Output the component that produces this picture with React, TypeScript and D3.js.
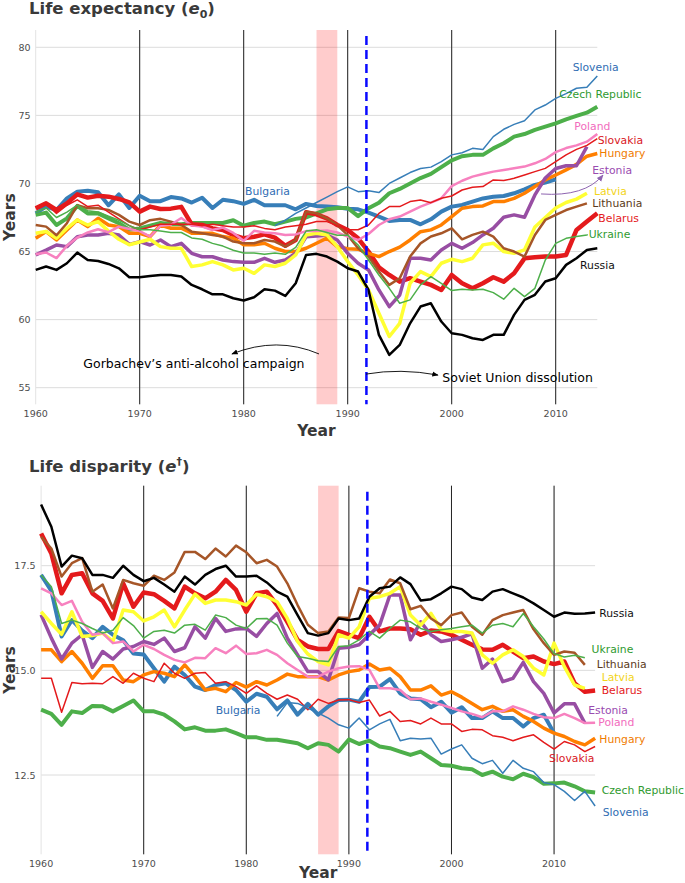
import React from 'react';
import * as d3 from 'd3';

const N = null;

const years = [
  1960, 1961, 1962, 1963, 1964, 1965, 1966, 1967, 1968, 1969,
  1970, 1971, 1972, 1973, 1974, 1975, 1976, 1977, 1978, 1979,
  1980, 1981, 1982, 1983, 1984, 1985, 1986, 1987, 1988, 1989,
  1990, 1991, 1992, 1993, 1994, 1995, 1996, 1997, 1998, 1999,
  2000, 2001, 2002, 2003, 2004, 2005, 2006, 2007, 2008, 2009,
  2010, 2011, 2012, 2013, 2014,
];

// ---------- Life expectancy (e0) ----------
const e0Russia = [
  63.65, 63.9, 63.65, 64.14, 64.92, 64.38, 64.31, 64.09, 63.77, 63.11,
  63.11, 63.21, 63.28, 63.28, 63.16, 62.55, 62.23, 61.86, 61.86, 61.57,
  61.4, 61.64, 62.23, 62.13, 61.74, 62.67, 64.75, 64.83, 64.63, 64.26,
  63.77, 63.53, 62.18, 58.88, 57.41, 58.14, 59.73, 60.96, 61.2, 59.86,
  59.0, 58.88, 58.63, 58.51, 58.88, 58.88, 60.35, 61.45, 61.82, 62.8,
  63.04, 64.02, 64.51, 65.12, 65.24,
];
const e0Bulgaria = [
  67.8, 68.3, 68.05, 68.9, 69.4, 69.47, 69.35, 68.4, 69.2, 68.2,
  69.1, 68.7, 68.7, 69.0, 68.9, 68.6, 68.95, 68.2, 68.8, 68.7,
  68.5, 68.8, 68.4, 68.4, 68.4, 68.1, 68.5, 68.35, 68.3, 68.25,
  68.15, 68.1, 67.86, 67.56, 67.25, 67.32, 67.32, 67.0, 67.37, 67.93,
  68.3, 68.42, 68.67, 68.9, 69.03, 69.08, 69.28, 69.57, 69.89, 70.06,
  70.3, N, N, N, N,
];
const e0Czech = [
  67.69, 67.86, 66.95, 67.44, 68.35, 67.8, 67.8, 67.44, 67.08, 66.6,
  66.7, 66.9, 67.1, 67.0, 67.0, 67.1, 67.1, 67.1, 67.1, 67.3,
  66.9, 67.1, 67.2, 67.0, 67.2, 67.4, 67.5, 67.8, 68.1, 68.2,
  68.2, 67.6, 68.18, 68.59, 69.28, 69.6, 70.0, 70.4, 70.7, 71.2,
  71.7, 72.0, 72.1, 72.1, 72.58, 72.95, 73.44, 73.63, 73.93, 74.17,
  74.42, 74.71, 74.96, 75.2, 75.64,
];
const e0Slovakia = [
  68.2, 68.5, 67.8, 68.4, 68.8, 68.3, 68.4, 67.9, 67.4, 66.9,
  66.6, 66.8, 67.0, 67.0, 67.0, 67.0, 66.9, 67.0, 66.9, 66.8,
  66.8, 66.9, 66.7, 66.6, 66.8, 66.9, 67.0, 67.2, 67.2, 66.9,
  66.6, 66.6, 66.95, 67.8, 68.3, 68.3, 68.67, 68.79, 68.59, 68.91,
  69.08, 69.52, 69.72, 69.77, 70.26, 70.21, 70.38, 70.62, 70.87, 71.11,
  71.6, 72.1, 72.5, 72.8, 73.3,
];
const e0Belarus = [
  68.17, 68.54, 68.05, 68.54, 69.2, 68.96, 69.1, 69.03, 68.86, 68.61,
  67.93, 68.3, 68.12, 68.15, 68.28, 67.0, 66.95, 66.7, 66.58, 66.21,
  65.97, 66.09, 66.26, 66.02, 65.43, 65.85, 67.88, 67.73, 67.44, 66.95,
  66.58, 65.97, 65.0, 63.84, 63.28, 62.79, 63.04, 62.79, 62.55, 62.18,
  63.28, 62.67, 62.3, 62.67, 63.11, 62.79, 63.4, 64.5, 64.58, 64.63,
  64.63, 64.75, 66.59, 67.2, 67.81,
];
const e0Ukraine = [
  67.9, 68.2, 67.5, 67.9, 68.4, 68.0, 67.9, 67.6, 67.3, 66.9,
  66.6, 66.6, 66.5, 66.4, 66.4, 66.0, 65.9, 65.6, 65.4, 65.1,
  64.9, 64.9, 64.8, 64.9, 64.8, 65.3, 66.5, 66.6, 66.4, 66.2,
  66.2, 65.48, 64.38, 63.28, 62.3, 61.2, 61.45, 62.55, 63.16, 62.67,
  62.13, 62.23, 62.18, 62.23, 61.98, 61.5, 62.3, 61.69, 62.3, 64.38,
  65.6, 65.97, 66.1, 66.22, N,
];
const e0Estonia = [
  64.75, 65.1, 65.48, 65.36, 66.09, 66.21, 66.21, 66.34, 66.21, 65.53,
  65.73, 65.48, 65.85, 65.36, 65.6, 64.87, 64.62, 64.62, 64.38, 64.26,
  64.21, 64.21, 64.5, 64.21, 64.38, 64.87, 66.09, 66.14, 66.21, 65.85,
  64.87, 64.14, 63.65, 62.18, 60.95, 61.8, 64.5, 64.5, 64.38, 65.12,
  65.6, 65.24, 65.66, 66.22, 66.71, 67.52, 67.69, 67.52, 69.16, 70.4,
  71.1, 71.3, 71.3, 72.7, N,
];
const e0Latvia = [
  66.34, 66.47, 65.98, 66.71, 67.32, 66.95, 67.2, 66.5, 65.9, 65.5,
  65.7, 65.9, 65.36, 65.24, 65.24, 63.9, 64.02, 64.26, 64.02, 63.65,
  63.77, 63.4, 64.02, 63.9, 64.14, 64.75, 66.22, 66.34, 66.22, 65.36,
  64.26, 63.28, 62.18, 60.47, 58.76, 59.73, 62.67, 63.53, 63.16, 64.14,
  64.43, 64.26, 64.51, 65.49, 65.61, 65.0, 64.87, 65.12, 66.8, 67.5,
  68.2, 68.6, 68.85, 69.28, N,
];
const e0Lithuania = [
  66.95, 66.83, 66.2, 67.08, 68.4, 68.18, 68.18, 68.06, 67.69, 67.2,
  66.95, 67.3, 67.4, 67.2, 66.95, 66.46, 66.34, 66.22, 66.1, 65.73,
  65.61, 65.61, 65.85, 65.73, 65.36, 65.85, 67.93, 67.81, 67.44, 66.95,
  66.2, 65.24, 64.63, 63.53, 62.55, 63.04, 64.63, 65.6, 66.1, 66.34,
  66.71, 65.9, 66.22, 66.46, 66.1, 65.24, 65.0, 64.63, 66.22, 67.32,
  67.69, 68.05, 68.3, 68.54, N,
];
const e0Hungary = [
  65.98, 66.47, 65.85, 66.59, 67.32, 66.83, 67.44, 66.95, 66.83, 66.34,
  66.34, 66.1, 66.95, 66.71, 66.71, 66.34, 66.34, 66.34, 66.1, 65.98,
  65.49, 65.49, 65.61, 65.24, 65.0, 65.0, 65.24, 65.61, 65.98, 65.36,
  65.2, 65.17, 64.87, 64.63, 65.0, 65.32, 65.85, 66.46, 66.59, 66.95,
  67.56, 68.18, 68.3, 68.35, 68.67, 68.67, 68.91, 69.28, 69.77, 70.26,
  70.62, 71.0, 71.4, 72.0, 72.2,
];
const e0Poland = [
  64.8, 64.93, 64.52, 65.42, 66.03, 66.4, 66.64, 66.42, 66.83, 66.66,
  66.5, 66.1, 66.9, 66.97, 67.46, 66.92, 66.83, 66.58, 66.76, 66.37,
  65.79, 66.52, 66.4, 66.34, 66.22, 66.26, 66.5, 66.5, 66.55, 66.4,
  66.1, 65.85, 66.29, 66.95, 67.37, 67.57, 67.93, 68.3, 68.59, 68.91,
  69.8, 70.2, 70.5, 70.7, 70.87, 70.99, 71.11, 71.24, 71.48, 71.8,
  72.3, 72.6, 72.8, 73.07, 73.63,
];
const e0Slovenia = [
  N, N, N, N, N, N, N, N, N, N,
  N, N, N, N, N, N, N, N, N, N,
  N, N, N, 66.9, 67.3, 67.8, 68.2, 68.6, 69.0, 69.4,
  69.75, 69.4, 69.47, 69.33, 70.0, 70.4, 70.8, 71.1, 71.2, 71.6,
  72.1, 72.26, 72.58, 72.5, 73.44, 73.98, 74.34, 74.6, 75.4, 75.76,
  76.25, 76.6, 76.99, 77.06, 77.9,
];

// ---------- Life disparity (e-dagger) ----------
const edRussia = [
  18.96, 18.43, 17.48, 17.74, 17.68, 17.28, 17.28, 17.21, 17.5, 17.28,
  17.13, 17.21, 17.05, 16.88, 17.24, 17.05, 17.28, 17.42, 17.5, 17.24,
  17.24, 17.26, 17.1, 16.88, 16.76, 16.32, 15.89, 15.83, 15.89, 16.24,
  16.2, 16.24, 16.76, 16.96, 17.0, 17.22, 17.06, 16.67, 16.7, 16.84,
  17.0, 16.94, 16.74, 16.68, 16.88, 16.94, 16.84, 16.74, 16.6, 16.44,
  16.28, 16.38, 16.35, 16.36, 16.38,
];
const edLithuania = [
  18.19, 17.91, 17.24, 17.56, 17.68, 16.88, 17.05, 16.48, 17.16, 17.08,
  17.02, 17.26, 17.16, 17.34, 17.83, 17.83, 17.66, 17.91, 17.72, 17.98,
  17.82, 17.56, 17.64, 17.48, 17.08, 16.56, 16.09, 15.89, 15.93, 16.26,
  16.25, 16.96, 16.88, 16.84, 17.17, 17.08, 16.46, 16.54, 16.24, 16.08,
  16.32, 16.38, 16.04, 15.85, 16.2, 16.32, 16.38, 16.44, 15.98, 15.65,
  15.37, 15.45, 15.42, 15.13, N,
];
const edBelarus = [
  18.27, 17.79, 16.84, 17.28, 17.32, 16.84, 16.66, 16.24, 17.08, 16.52,
  16.86, 16.82, 16.66, 16.48, 17.0, 16.84, 16.72, 16.88, 17.16, 16.92,
  16.4, 16.84, 16.88, 16.56, 16.16, 15.73, 15.57, 15.51, 15.51, 15.94,
  15.85, 15.77, 16.28, 15.93, 16.0, 16.0, 15.98, 15.85, 15.95, 15.93,
  15.85, 15.73, 15.61, 15.5, 15.49, 15.61, 15.45, 15.29, 15.33, 15.21,
  15.15, 15.21, 14.69, 14.49, 14.52,
];
const edLatvia = [
  16.4, 16.12, 15.86, 16.4, 15.81, 15.83, 15.89, 15.69, 16.44, 16.4,
  16.18, 16.28, 16.44, 16.04, 16.44, 16.82, 16.6, 16.68, 16.68, 16.64,
  16.56, 16.82, 16.76, 16.64, 16.24, 15.69, 15.39, 15.21, 15.13, 15.85,
  15.77, 16.04, 16.72, 16.76, 16.84, 17.0, 16.32, 16.08, 16.36, 15.97,
  15.93, 15.93, 15.89, 15.37, 15.17, 15.37, 15.49, 15.33, 15.05, 14.89,
  15.65, 15.09, 14.65, 14.57, N,
];
const edUkraine = [
  17.28, 17.0, 16.12, 16.2, 16.12, 16.0, 15.89, 15.96, 16.26, 16.07,
  15.77, 15.93, 15.96, 15.89, 16.08, 16.1, 15.96, 16.32, 16.26, 16.08,
  16.0, 16.23, 16.24, 16.08, 15.65, 15.33, 15.29, 15.23, 15.21, 15.57,
  15.59, 15.73, 15.93, 15.77, 16.0, 16.2, 16.16, 16.0, 15.93, 15.97,
  16.0, 16.04, 16.08, 15.89, 16.08, 16.12, 16.04, 16.36, 16.04, 15.75,
  15.4, 15.32, 15.36, 15.3, N,
];
const edEstonia = [
  16.33, 15.77, 15.27, 15.65, 15.85, 15.07, 15.45, 15.27, 15.51, 15.57,
  15.69, 15.62, 15.77, 15.45, 15.54, 16.04, 15.77, 16.24, 15.93, 15.99,
  16.0, 15.81, 16.12, 16.36, 15.77, 15.37, 14.97, 14.97, 14.77, 15.53,
  15.55, 15.61, 15.85, 16.08, 16.8, 16.8, 15.73, 16.16, 15.85, 15.69,
  15.73, 15.79, 15.87, 15.05, 15.27, 14.73, 14.81, 15.19, 14.73, 14.45,
  13.98, 14.2, 14.2, 13.74, N,
];
const edPoland = [
  16.96, 16.84, 16.56, 16.66, 16.16, 15.85, 15.89, 15.65, 15.69, 15.45,
  15.61, 15.51, 15.37, 15.25, 15.19, 15.3, 15.29, 15.53, 15.41, 15.59,
  15.39, 15.41, 15.49, 15.37, 15.17, 15.01, 14.85, 14.85, 14.97, 15.05,
  15.09, 15.1, 15.01, 14.57, 14.57, 14.53, 14.31, 14.33, 14.25, 14.18,
  14.1, 14.02, 13.96, 13.88, 14.02, 14.02, 14.14, 14.06, 13.96, 13.88,
  13.86, 13.96, 13.86, 13.74, 13.75,
];
const edHungary = [
  15.49, 15.49, 15.21, 15.45, 15.17, 14.81, 15.11, 15.11, 14.77, 14.73,
  14.89, 14.97, 14.93, 14.85, 15.13, 14.85, 14.53, 14.57, 14.49, 14.71,
  14.6, 14.73, 14.65, 14.77, 14.91, 14.85, 14.85, 14.85, 14.77, 14.89,
  14.97, 15.01, 15.15, 15.01, 15.05, 14.85, 14.53, 14.53, 14.63, 14.41,
  14.49, 14.36, 14.21, 14.06, 14.14, 14.02, 14.06, 13.9, 13.78, 13.62,
  13.5, 13.42, 13.3, 13.22, 13.38,
];
const edSlovakia = [
  14.81, 14.81, 14.0, 14.71, 14.68, 14.69, 14.68, 14.85, 14.69, 14.93,
  14.81, 14.73, 15.17, 14.93, 14.81, 14.93, 14.95, 14.69, 14.73, 14.61,
  14.45, 14.63, 14.45, 14.31, 14.41, 14.31, 14.06, 14.31, 14.21, 14.29,
  14.3, 14.23, 14.29, 13.91, 14.02, 13.78, 13.8, 13.72, 13.86, 13.72,
  13.72, 13.54, 13.59, 13.58, 13.44, 13.4, 13.32, 13.4, 13.46, 13.28,
  13.12, 13.3, 13.22, 13.06, 13.18,
];
const edBulgaria = [
  17.28, 16.9, 15.81, 16.2, 15.95, 15.77, 16.04, 15.85, 15.72, 15.4,
  15.38, 15.05, 14.73, 15.09, 14.89, 14.61, 14.53, 14.65, 14.69, 14.53,
  14.25, 14.44, 14.37, 14.07, 14.28, 13.94, 14.2, 13.94, 14.14, 14.29,
  14.3, 14.25, 14.6, 14.61, 14.79, 14.45, 14.33, 14.31, 14.12, 14.25,
  13.99, 14.12, 13.86, 13.86, 14.02, 13.86, 13.86, 13.66, 13.86, 13.94,
  13.5, N, N, N, N,
];
const edSlovenia = [
  N, N, N, N, N, N, N, N, N, N,
  N, N, N, N, N, N, N, N, N, N,
  N, N, N, 13.9, 14.23, 14.21, 14.1, 13.98, 13.86, 13.7,
  13.62, 13.86, 13.58, 13.72, 13.83, 13.32, 13.38, 13.36, 13.38, 13.0,
  13.12, 13.22, 12.9, 12.77, 12.85, 12.54, 12.85, 12.66, 12.58, 12.32,
  12.27, 12.11, 11.89, 12.11, 11.76,
];
const edCzech = [
  14.06, 13.96, 13.7, 14.02, 13.98, 14.15, 14.14, 14.02, 14.15, 14.28,
  14.02, 14.02, 13.94, 13.78, 13.59, 13.64, 13.56, 13.56, 13.59, 13.5,
  13.4, 13.4, 13.34, 13.34, 13.3, 13.26, 13.14, 13.26, 13.22, 13.06,
  13.35, 13.24, 13.32, 13.18, 13.14, 13.06, 12.98, 13.06, 12.9, 12.74,
  12.72, 12.66, 12.64, 12.5, 12.58, 12.46, 12.4, 12.53, 12.45, 12.29,
  12.3, 12.32, 12.23, 12.11, 12.08,
];

// ---------- series meta (drawing order) ----------
const countryNames = [
  'Bulgaria', 'Czech Republic', 'Belarus', 'Hungary', 'Estonia', 'Latvia',
  'Lithuania', 'Poland', 'Russia', 'Slovakia', 'Slovenia', 'Ukraine',
];
const lineColors = [
  '#377eb8', '#4daf4a', '#e41a1c', '#ff7f00', '#984ea3', '#ffff33',
  '#a65628', '#f781bf', '#000000', '#e41a1c', '#377eb8', '#4daf4a',
];
const lineWidths = [4, 4, 4.5, 3.5, 3.5, 3.5, 2.5, 2.5, 2.5, 1.5, 1.5, 1.5];
const labelColors = [
  '#2f6db3', '#2f9a2f', '#e41a1c', '#f07c00', '#9a4cb0', '#f2d41a',
  '#5a3a20', '#f26bbd', '#111111', '#d9161e', '#2f6db3', '#2f9a2f',
];
const e0Series = [
  e0Bulgaria, e0Czech, e0Belarus, e0Hungary, e0Estonia, e0Latvia,
  e0Lithuania, e0Poland, e0Russia, e0Slovakia, e0Slovenia, e0Ukraine,
];
const edSeries = [
  edBulgaria, edCzech, edBelarus, edHungary, edEstonia, edLatvia,
  edLithuania, edPoland, edRussia, edSlovakia, edSlovenia, edUkraine,
];
// label anchors [year, value]
const e0LabelPos = [
  [1980.13, 69.38], [2010.35, 76.55], [2014.1, 67.42], [2014.19, 72.22],
  [2013.52, 70.97], [2013.68, 69.4], [2013.52, 68.5], [2011.79, 74.17],
  [2012.34, 63.96], [2014.04, 73.14], [2011.63, 78.5], [2013.17, 66.22],
];
const edLabelPos = [
  [1977.02, 14.04], [2014.64, 12.13], [2014.64, 14.52], [2014.41, 13.36],
  [2013.33, 14.05], [2014.64, 14.84], [2014.15, 15.15], [2014.31, 13.75],
  [2014.4, 16.36], [2009.5, 12.9], [2014.74, 11.61], [2013.66, 15.49],
];

const e0Ticks = [55, 60, 65, 70, 75, 80];
const edTicks = [12.5, 15.0, 17.5];
const decadeTicks = [1960, 1970, 1980, 1990, 2000, 2010];
const markedYears = [1970, 1980, 1990, 2000, 2010];
const campaignYears = [1987, 1989];
const dissolutionYear = 1991.8;

const FONT = "'DejaVu Sans', Verdana, sans-serif";

function Panel(props) {
  const { cfg, series, labelPos, tickFormat, children } = props;
  const x = d3.scaleLinear().domain([1960, 2014]).range([cfg.x0, cfg.x1]);
  const y = d3.scaleLinear().domain(cfg.yDomain).range(cfg.yRange);
  const line = d3
    .line()
    .defined((d) => d != null)
    .x((d, i) => x(years[i]))
    .y((d) => y(d));
  return (
    <g>
      {cfg.ticks.map((t) => (
        <line key={'h' + t} x1={cfg.x0} x2={cfg.x1} y1={y(t)} y2={y(t)} stroke="#dcdcdc" strokeWidth={1} />
      ))}
      {decadeTicks.map((t) => (
        <line key={'v' + t} x1={x(t)} x2={x(t)} y1={cfg.yTop} y2={cfg.yBottom} stroke="#e3e3e3" strokeWidth={1} />
      ))}
      <rect
        x={x(campaignYears[0])}
        y={cfg.yTop}
        width={x(campaignYears[1]) - x(campaignYears[0])}
        height={cfg.yBottom - cfg.yTop}
        fill="#ff0000"
        fillOpacity={0.2}
      />
      {markedYears.map((t) => (
        <line key={'m' + t} x1={x(t)} x2={x(t)} y1={cfg.yTop} y2={cfg.yBottom} stroke="#222" strokeWidth={1} />
      ))}
      {cfg.ticks.map((t) => (
        <text key={'yt' + t} x={cfg.tickX} y={y(t)} textAnchor="end" dominantBaseline="central" fontSize={9.5} fill="#4d4d4d" fontFamily={FONT}>
          {tickFormat(t)}
        </text>
      ))}
      {decadeTicks.map((t) => (
        <text key={'xt' + t} x={x(t)} y={cfg.xTickY} textAnchor="middle" dominantBaseline="central" fontSize={9.5} fill="#4d4d4d" fontFamily={FONT}>
          {t}
        </text>
      ))}
      {series.map((s, i) => (
        <path key={'s' + i} d={line(s)} fill="none" stroke={lineColors[i]} strokeWidth={lineWidths[i]} strokeLinejoin="round" />
      ))}
      <line
        x1={x(dissolutionYear)}
        x2={x(dissolutionYear)}
        y1={cfg.yTop + 6}
        y2={cfg.yBottom}
        stroke="#0a0aff"
        strokeWidth={2.5}
        strokeDasharray="9,5"
      />
      {labelPos.map((p, i) => (
        <text key={'l' + i} x={x(p[0])} y={y(p[1])} dominantBaseline="central" fontSize={10.8} fill={labelColors[i]} fontFamily={FONT}>
          {countryNames[i]}
        </text>
      ))}
      {children ? children(x, y) : null}
      <text x={(cfg.x0 + cfg.x1) / 2} y={cfg.yearY} textAnchor="middle" fontSize={15.5} fontWeight="bold" fill="#383838" fontFamily={FONT}>
        Year
      </text>
      <text
        transform={`translate(15,${(cfg.yTop + cfg.yBottom) / 2}) rotate(-90)`}
        textAnchor="middle"
        fontSize={15.5}
        fontWeight="bold"
        fill="#383838"
        fontFamily={FONT}
      >
        Years
      </text>
    </g>
  );
}

const topCfg = {
  x0: 35.7, x1: 597.3, yTop: 30, yBottom: 404.3,
  yDomain: [55, 80], yRange: [387.7, 47.3], ticks: e0Ticks,
  tickX: 30.5, xTickY: 413, yearY: 435.5,
};
const bottomCfg = {
  x0: 41.1, x1: 595.1, yTop: 485.7, yBottom: 854.3,
  yDomain: [12.5, 17.5], yRange: [775, 565.7], ticks: edTicks,
  tickX: 35.5, xTickY: 863, yearY: 878,
};

function curve(x, y, a, c, b) {
  return `M${x(a[0])},${y(a[1])} Q${x(c[0])},${y(c[1])} ${x(b[0])},${y(b[1])}`;
}

export default function App() {
  const fmt0 = (t) => d3.format('d')(t);
  const fmt1 = (t) => d3.format('.1f')(t);
  return (
    <svg
      width={685}
      height={883}
      viewBox="0 0 685 883"
      style={{ position: 'absolute', left: 0, top: 0, background: '#fff' }}
      fontFamily={FONT}
    >
      <defs>
        <marker id="ah" viewBox="0 0 10 10" refX="9" refY="5" markerWidth="7" markerHeight="7" orient="auto-start-reverse">
          <path d="M0,1 L10,5 L0,9 z" fill="#000" />
        </marker>
        <marker id="ahp" viewBox="0 0 10 10" refX="9" refY="5" markerWidth="7" markerHeight="7" orient="auto-start-reverse">
          <path d="M0,1 L10,5 L0,9 z" fill="#8e64b0" />
        </marker>
      </defs>
      <rect x={0} y={0} width={685} height={883} fill="#fff" />

      <text x={29} y={14} fontSize={16.5} fontWeight="bold" fill="#3a3a3a" fontFamily={FONT}>
        Life expectancy (<tspan fontStyle="italic">e</tspan>
        <tspan fontSize={11} dy={4}>0</tspan>
        <tspan dy={-4}>)</tspan>
      </text>
      <Panel cfg={topCfg} series={e0Series} labelPos={e0LabelPos} tickFormat={fmt0}>
        {(x, y) => (
          <g>
            <line x1={x(2013)} y1={y(e0Ukraine[53])} x2={x(2013.1)} y2={y(66.22)} stroke="#4daf4a" strokeWidth={1.2} />
            <path d={curve(x, y, [2008.59, 69.23], [2012.8, 69.0], [2014.55, 70.62])} fill="none" stroke="#8e64b0" strokeWidth={1} markerEnd="url(#ahp)" />
            <path d={curve(x, y, [1987.24, 57.48], [1983.2, 58.8], [1978.87, 57.48])} fill="none" stroke="#000" strokeWidth={0.9} markerEnd="url(#ah)" />
            <text x={x(1964.58)} y={y(56.75)} dominantBaseline="central" fontSize={12.5} fill="#000" fontFamily={FONT}>
              Gorbachev’s anti-alcohol campaign
            </text>
            <path d={curve(x, y, [1991.76, 56.0], [1995.03, 56.44], [1998.68, 55.93])} fill="none" stroke="#000" strokeWidth={0.9} markerEnd="url(#ah)" />
            <text x={x(1999.1)} y={y(55.74)} dominantBaseline="central" fontSize={12.5} fill="#000" fontFamily={FONT}>
              Soviet Union dissolution
            </text>
          </g>
        )}
      </Panel>

      <text x={29} y={472} fontSize={16.5} fontWeight="bold" fill="#3a3a3a" fontFamily={FONT}>
        Life disparity (<tspan fontStyle="italic">e</tspan>
        <tspan fontSize={11} dy={-7}>†</tspan>
        <tspan dy={7}>)</tspan>
      </text>
      <Panel cfg={bottomCfg} series={edSeries} labelPos={edLabelPos} tickFormat={fmt1} />
    </svg>
  );
}
